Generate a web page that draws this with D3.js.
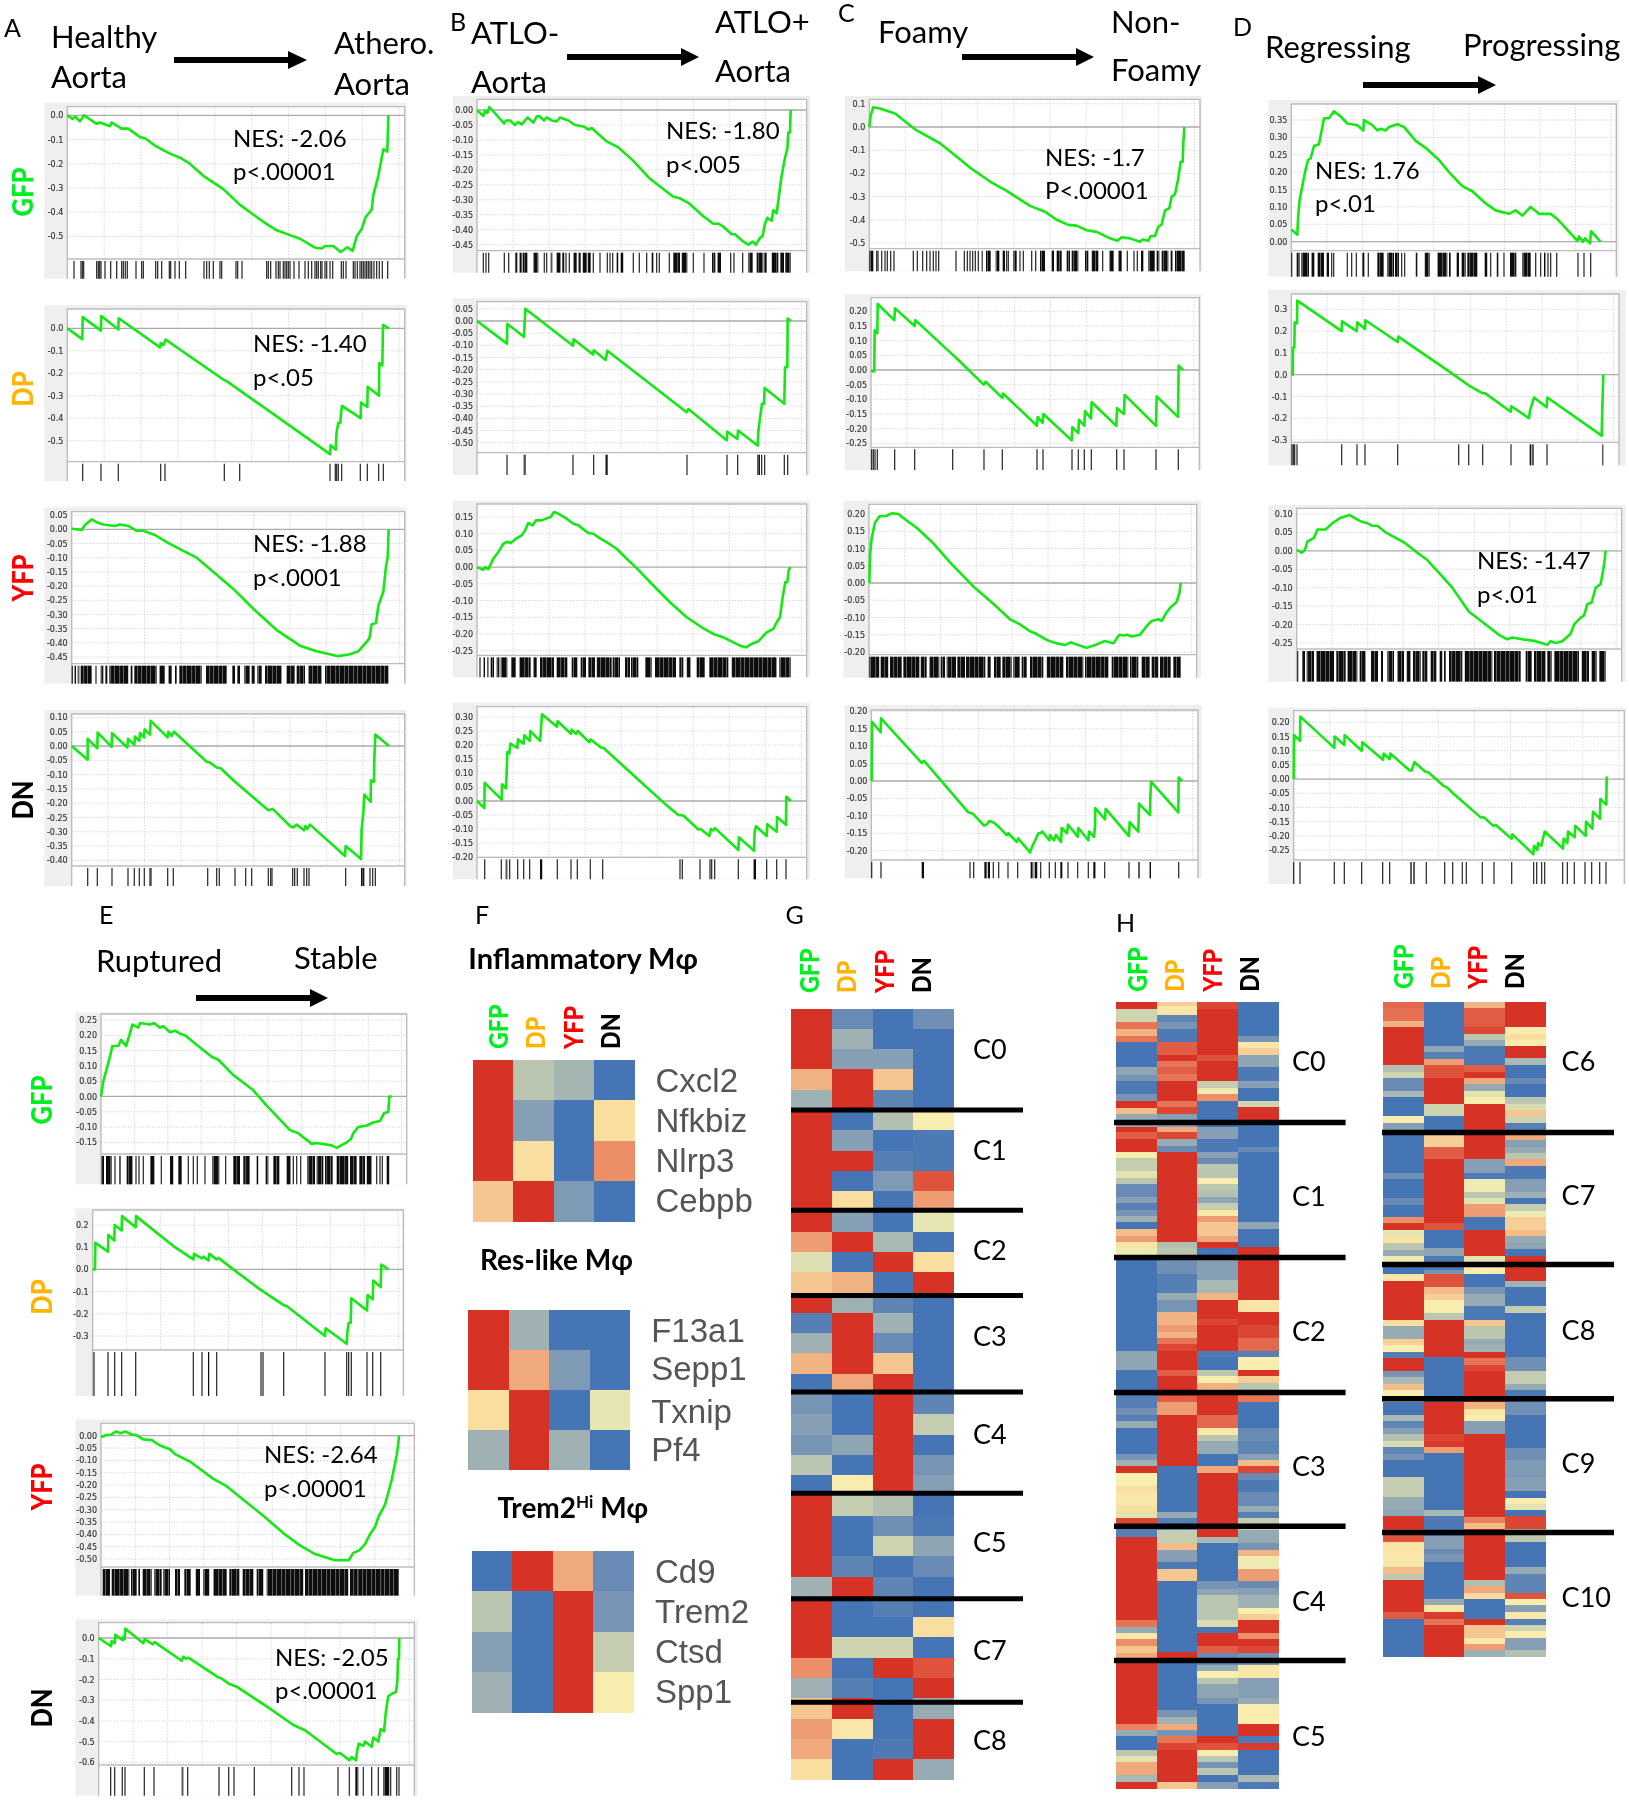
<!DOCTYPE html>
<html><head><meta charset="utf-8">
<script src="https://cdn.jsdelivr.net/npm/d3@7/dist/d3.min.js"></script>
<style>html,body{margin:0;padding:0;background:#fff}svg{display:block}</style></head>
<body><svg id="c" width="1629" height="1800">
<defs>
<filter id="soft" filterUnits="userSpaceOnUse" x="0" y="0" width="1629" height="1800"><feGaussianBlur stdDeviation="0.45"/></filter>
<pattern id="dense" patternUnits="userSpaceOnUse" width="9" height="10">
<rect width="9" height="10" fill="#0c0c0c"/><rect x="2.2" width="0.9" height="10" fill="#6a6a6a"/><rect x="6" width="0.7" height="10" fill="#8a8a8a"/>
</pattern>
</defs></svg>
<script>
// ===== DATA: running enrichment score [rank, ES], hit ranks (a pair is a dense run of hits) =====
const esA_GFP=[[202,0],[218,-.015],[225,-.005],[240,-.025],[252,0],[265,-.012],[290,-.035],[300,-.03],[330,-.045],[335,-.03],[365,-.055],[385,-.055],[420,-.09],[435,-.095],[465,-.125],[505,-.155],[540,-.175],[565,-.195],[610,-.25],[670,-.305],[720,-.37],[790,-.44],[830,-.475],[870,-.495],[900,-.51],[945,-.547],[965,-.55],[975,-.54],[1000,-.54],[1022,-.565],[1042,-.545],[1058,-.56],[1070,-.5],[1085,-.47],[1097,-.42],[1115,-.39],[1120,-.33],[1135,-.25],[1150,-.14],[1162,-.15],[1165,0]];
const hitsA_GFP=[222,243,247,251,290,295,299,303,315,332,350,365,370,376,382,408,425,430,467,473,485,508,512,525,538,557,612,620,628,640,660,665,708,713,726,800,805,812,828,835,840,850,855,860,865,870,882,897,915,925,935,945,950,955,962,966,975,980,990,998,1024,1030,1038,1060,1065,1072,1080,1085,1090,1095,1100,1105,1110,1115,1122,1130,1138,1147,1163];
const ticksA_GFP=[0,-.1,-.2,-.3,-.4,-.5];
const esA_DP=[[202,0],[247,-.048],[248,.05],[303,-.01],[304,.055],[355,-.005],[356,.045],[480,-.085],[482,-.065],[490,-.075],[497,-.05],[672,-.23],[680,-.235],[990,-.56],[992,-.52],[1007,-.54],[1010,-.46],[1015,-.42],[1021,-.42],[1023,-.38],[1026,-.345],[1082,-.4],[1083,-.33],[1102,-.35],[1103,-.26],[1137,-.3],[1138,-.155],[1147,-.165],[1149,.015],[1167,0]];
const hitsA_DP=[248,303,355,482,495,673,719,990,1006,1010,1015,1025,1081,1102,1136,1150];
const ticksA_DP=[0,-.1,-.2,-.3,-.4,-.5];
const esA_YFP=[[215,.002],[245,-.002],[255,.015],[275,.035],[290,.025],[310,.017],[345,.012],[360,.017],[385,.012],[410,-.005],[430,-.005],[465,-.02],[500,-.045],[540,-.07],[590,-.1],[650,-.16],[700,-.21],[760,-.28],[830,-.355],[900,-.41],[950,-.43],[1015,-.447],[1050,-.44],[1075,-.43],[1090,-.41],[1108,-.385],[1115,-.335],[1128,-.33],[1135,-.27],[1150,-.22],[1158,-.13],[1163,-.1],[1166,0]];
const hitsA_YFP=[217,[223,228],[233,238],[242,275],288,[302,310],[315,322],[328,385],[392,398],[403,470],[478,495],[505,515],[525,530],[538,605],[618,680],[697,705],[712,720],[733,750],[755,765],[772,785],[795,845],[860,885],[890,915],[925,965],[975,1165]];
const ticksA_YFP=[.05,0,-.05,-.1,-.15,-.2,-.25,-.3,-.35,-.4,-.45];
const esA_DN=[[215,0],[263,-.048],[263,.025],[292,-.008],[293,.047],[335,-.003],[336,.045],[382,-.005],[384,.025],[403,.005],[405,.033],[418,.018],[420,.045],[432,.03],[434,.058],[450,.04],[452,.088],[503,.03],[505,.05],[515,.035],[522,.05],[620,-.055],[630,-.058],[650,-.075],[662,-.078],[700,-.12],[760,-.18],[805,-.225],[818,-.22],[870,-.28],[880,-.285],[890,-.275],[912,-.295],[916,-.28],[922,-.29],[930,-.275],[1035,-.385],[1037,-.35],[1083,-.395],[1085,-.29],[1090,-.235],[1093,-.17],[1112,-.195],[1113,-.12],[1122,-.125],[1123,-.045],[1126,.04],[1167,0]];
const hitsA_DN=[263,292,336,384,403,418,433,450,453,503,520,623,650,658,705,737,755,805,812,816,878,884,892,912,920,927,1037,[1083,1093],1110,1118,1126];
const ticksA_DN=[.1,.05,0,-.05,-.1,-.15,-.2,-.25,-.3,-.35,-.4];

const esB_GFP=[[141,0],[160,-.02],[165,-.002],[172,-.01],[178,.01],[222,-.045],[228,-.035],[240,-.035],[255,-.05],[265,-.04],[275,-.048],[293,-.025],[310,-.042],[320,-.022],[328,-.02],[342,-.035],[350,-.025],[365,-.035],[380,-.038],[390,-.025],[415,-.035],[435,-.05],[460,-.055],[475,-.065],[485,-.06],[530,-.105],[565,-.125],[610,-.17],[660,-.23],[730,-.29],[750,-.295],[775,-.31],[820,-.355],[850,-.38],[865,-.38],[880,-.39],[905,-.415],[915,-.415],[940,-.44],[955,-.45],[968,-.44],[978,-.45],[988,-.43],[998,-.42],[1005,-.38],[1012,-.36],[1025,-.37],[1030,-.335],[1040,-.345],[1047,-.285],[1055,-.22],[1065,-.16],[1072,-.13],[1075,-.075],[1080,-.075],[1082,0]];
const hitsB_GFP=[160,168,176,223,236,[255,262],[268,275],[278,292],[310,325],343,350,[362,367],[380,392],[397,403],408,418,[430,440],[445,452],[458,470],[473,482],490,510,532,540,548,[560,565],[572,580],610,628,650,[665,670],680,688,718,[730,750],[755,772],790,822,[846,856],[862,873],902,912,938,[955,968],[980,1000],[1003,1010],[1025,1045],[1050,1062],[1065,1082]];
const ticksB_GFP=[0,-.05,-.1,-.15,-.2,-.25,-.3,-.35,-.4,-.45];
const esB_DP=[[141,0],[231,-.093],[232,-.012],[282,-.065],[284,-.005],[286,.05],[429,-.102],[431,-.075],[489,-.138],[491,-.12],[527,-.16],[532,-.122],[770,-.375],[775,-.362],[890,-.49],[892,-.455],[922,-.485],[924,-.45],[983,-.512],[985,-.455],[990,-.4],[996,-.34],[1002,-.34],[1004,-.275],[1063,-.34],[1065,-.19],[1072,-.19],[1073,.01],[1083,0]];
const hitsB_DP=[231,[281,287],429,491,[526,533],771,891,923,[982,990],995,1004,1063,1073];
const ticksB_DP=[.05,0,-.05,-.1,-.15,-.2,-.25,-.3,-.35,-.4,-.45,-.5];
const esB_YFP=[[141,0],[160,-.008],[165,0],[175,-.006],[190,.025],[205,.045],[220,.07],[232,.076],[242,.072],[258,.085],[275,.095],[285,.11],[295,.132],[308,.125],[318,.14],[335,.14],[350,.146],[362,.15],[372,.165],[385,.16],[410,.145],[430,.13],[445,.125],[475,.102],[490,.1],[510,.086],[530,.075],[560,.055],[590,.025],[620,-.003],[670,-.055],[720,-.105],[770,-.15],[815,-.18],[850,-.2],[880,-.21],[930,-.235],[948,-.24],[965,-.23],[985,-.222],[1010,-.195],[1030,-.185],[1040,-.165],[1050,-.15],[1058,-.09],[1066,-.045],[1072,-.045],[1076,-.01],[1081,0]];
const hitsB_YFP=[150,[160,165],[172,176],[182,192],[200,208],[212,232],[244,258],[268,302],[310,320],[330,372],[380,412],[425,442],[452,468],[475,495],[500,545],[548,570],[585,600],[603,625],[645,665],[675,738],[748,760],[770,782],[800,825],[838,895],[905,1040],[1048,1082]];
const ticksB_YFP=[.15,.1,.05,0,-.05,-.1,-.15,-.2,-.25];
const esB_DN=[[141,0],[163,-.025],[164,.065],[215,.005],[216,.06],[228,.045],[230,.1],[232,.175],[238,.17],[241,.205],[262,.19],[264,.22],[281,.205],[283,.235],[299,.215],[301,.25],[330,.215],[332,.24],[336,.31],[381,.265],[383,.285],[423,.24],[425,.255],[438,.24],[443,.25],[478,.21],[482,.22],[514,.19],[520,.19],[580,.125],[640,.06],[700,-.005],[745,-.05],[760,-.052],[805,-.102],[812,-.1],[838,-.125],[843,-.1],[850,-.105],[855,-.097],[925,-.175],[927,-.13],[972,-.178],[974,-.11],[978,-.09],[1010,-.125],[1012,-.083],[1040,-.11],[1041,-.057],[1068,-.085],[1069,.015],[1083,0]];
const hitsB_DN=[164,214,[227,232],239,263,281,299,[330,337],382,423,442,481,518,750,757,810,840,845,854,925,[970,978],1010,1040,1068];
const ticksB_DN=[.3,.25,.2,.15,.1,.05,0,-.05,-.1,-.15,-.2];

const esC_GFP=[[118,0],[122,.05],[130,.085],[150,.08],[170,.07],[195,.058],[255,-.01],[330,-.07],[420,-.175],[480,-.235],[530,-.275],[600,-.34],[645,-.365],[680,-.4],[715,-.422],[740,-.425],[770,-.445],[800,-.452],[840,-.48],[862,-.49],[875,-.475],[900,-.48],[930,-.495],[938,-.485],[955,-.49],[962,-.47],[975,-.47],[985,-.43],[995,-.42],[1005,-.36],[1018,-.35],[1025,-.3],[1035,-.29],[1045,-.22],[1052,-.15],[1058,-.15],[1060,-.07],[1063,0]];
const hitsC_GFP=[[118,130],140,144,155,165,172,182,192,250,262,278,290,300,310,318,326,378,403,412,420,428,436,445,[455,458],[468,482],[497,508],[518,525],530,535,[550,560],570,580,605,617,[630,645],[665,672],[680,695],[710,720],[725,745],[765,775],[785,805],818,[838,852],[865,875],892,912,922,[933,940],[955,975],[980,988],[995,1015],[1022,1028],[1035,1064]];
const ticksC_GFP=[.1,0,-.1,-.2,-.3,-.4,-.5];
const esC_DP=[[123,-.003],[133,-.005],[134,.135],[142,.125],[143,.225],[193,.17],[195,.21],[254,.15],[256,.17],[370,.05],[375,.045],[461,-.05],[467,-.04],[517,-.095],[519,-.08],[621,-.19],[623,-.16],[638,-.18],[640,-.15],[725,-.24],[727,-.195],[745,-.215],[747,-.17],[763,-.19],[765,-.14],[783,-.165],[785,-.11],[859,-.19],[861,-.13],[882,-.15],[884,-.085],[978,-.19],[980,-.09],[1044,-.16],[1046,.015],[1060,0]];
const hitsC_DP=[125,130,135,142,194,254,368,462,517,621,639,726,745,763,784,860,882,978,1045];
const ticksC_DP=[.2,.15,.1,.05,0,-.05,-.1,-.15,-.2,-.25];
const esC_YFP=[[118,0],[120,.08],[125,.13],[135,.175],[148,.193],[170,.195],[185,.202],[205,.2],[225,.185],[260,.16],[310,.115],[360,.06],[430,-.01],[490,-.06],[540,-.105],[570,-.12],[600,-.14],[620,-.148],[650,-.165],[680,-.175],[705,-.18],[722,-.172],[745,-.18],[770,-.188],[800,-.178],[825,-.168],[850,-.175],[868,-.15],[880,-.152],[892,-.15],[905,-.155],[930,-.15],[950,-.125],[965,-.11],[985,-.105],[995,-.11],[1010,-.085],[1022,-.07],[1040,-.055],[1048,-.03],[1052,0]];
const hitsC_YFP=[[118,148],[152,175],[180,215],[220,268],[272,290],[298,328],[332,345],[350,378],[382,405],[408,466],[472,482],[492,512],[517,545],[550,570],[575,590],[600,640],[650,700],[708,760],[765,835],[845,895],[900,925],[935,960],[965,985],[990,1022],[1030,1052]];
const ticksC_YFP=[.2,.15,.1,.05,0,-.05,-.1,-.15,-.2];
const esC_DN=[[125,0],[126,.17],[152,.14],[153,.18],[275,.052],[282,.058],[415,-.09],[430,-.095],[462,-.128],[470,-.125],[478,-.115],[492,-.12],[510,-.135],[530,-.155],[535,-.15],[560,-.175],[565,-.165],[600,-.205],[608,-.185],[618,-.165],[625,-.15],[632,-.15],[637,-.145],[658,-.17],[660,-.155],[672,-.17],[678,-.155],[693,-.175],[695,-.135],[711,-.15],[714,-.125],[743,-.16],[745,-.135],[775,-.17],[777,-.145],[792,-.16],[795,-.13],[796,-.078],[825,-.11],[827,-.08],[897,-.158],[899,-.118],[925,-.145],[927,-.065],[960,-.098],[961,-.05],[963,-.002],[1045,-.09],[1046,.01],[1057,0]];
const hitsC_DN=[125,153,[275,282],420,431,[463,470],[473,480],490,506,534,563,[602,610],[614,622],632,658,676,[691,697],714,743,775,[790,797],824,897,[925,929],[958,963],1046];
const ticksC_DN=[.2,.15,.1,.05,0,-.05,-.1,-.15,-.2];

const esD_GFP=[[187,.035],[205,.02],[207,.065],[212,.12],[220,.16],[228,.2],[237,.235],[245,.24],[255,.275],[270,.28],[285,.355],[300,.355],[315,.375],[335,.36],[355,.34],[385,.335],[403,.32],[405,.35],[430,.335],[445,.32],[455,.325],[470,.32],[480,.33],[505,.338],[525,.33],[560,.29],[590,.27],[630,.235],[660,.2],[700,.16],[730,.145],[770,.11],[800,.09],[820,.085],[840,.08],[860,.09],[880,.075],[905,.1],[930,.08],[965,.08],[985,.065],[1000,.05],[1045,.002],[1050,.015],[1062,0],[1068,.01],[1083,-.005],[1086,.03],[1115,0]];
const hitsD_GFP=[188,[203,212],[217,240],[247,256],[266,285],[293,300],308,314,355,368,382,[400,406],418,[445,465],[475,495],[498,510],518,527,[560,565],[587,602],[625,655],[660,665],[683,690],[698,710],[715,745],[767,775],785,[803,808],825,[843,862],[880,905],920,935,[945,950],957,965,983,1047,1065,1085];
const ticksD_GFP=[.35,.3,.25,.2,.15,.1,.05,0];
const esD_DP=[[187,-.002],[191,0],[192,.125],[196,.125],[197,.24],[204,.235],[205,.34],[338,.2],[339,.245],[383,.2],[385,.24],[408,.21],[409,.25],[506,.15],[508,.175],[660,.015],[720,-.05],[760,-.085],[768,-.085],[845,-.17],[847,-.145],[900,-.2],[903,-.165],[908,-.14],[915,-.105],[953,-.15],[955,-.105],[1118,-.28],[1120,-.15],[1123,0]];
const hitsD_DP=[189,193,197,204,338,384,408,506,689,719,761,846,[902,906],[908,914],954,[1120,1122]];
const ticksD_DP=[.3,.2,.1,0,-.1,-.2,-.3];
const esD_YFP=[[203,.003],[218,-.005],[228,.003],[235,.025],[255,.035],[265,.058],[290,.058],[310,.075],[335,.09],[362,.097],[395,.08],[415,.075],[430,.068],[445,.068],[470,.05],[500,.035],[530,.02],[565,-.005],[595,-.025],[630,-.06],[670,-.1],[720,-.165],[770,-.2],[810,-.228],[835,-.24],[850,-.235],[880,-.24],[920,-.245],[955,-.255],[965,-.245],[980,-.25],[1000,-.245],[1025,-.225],[1035,-.2],[1050,-.185],[1065,-.175],[1075,-.145],[1088,-.14],[1100,-.1],[1115,-.09],[1125,-.04],[1130,0]];
const hitsD_YFP=[206,[219,228],[233,255],[262,315],[322,350],[355,385],[392,410],[426,447],[456,462],[475,495],[505,525],[533,545],[552,575],[580,595],[605,622],[632,640],[645,650],[660,700],[707,790],[795,875],[890,908],[915,950],[955,968],[975,1050],[1058,1080],[1088,1103],[1110,1130]];
const ticksD_YFP=[.1,.05,0,-.05,-.1,-.15,-.2,-.25];
const esD_DN=[[194,0],[195,.155],[213,.135],[214,.22],[316,.11],[317,.15],[346,.12],[347,.155],[398,.1],[400,.13],[462,.068],[464,.09],[482,.07],[484,.09],[542,.03],[548,.03],[556,.06],[590,.025],[597,.025],[645,-.025],[655,-.03],[672,-.05],[755,-.135],[765,-.135],[793,-.165],[800,-.162],[848,-.21],[850,-.195],[913,-.265],[915,-.235],[925,-.25],[927,-.225],[937,-.235],[947,-.185],[1002,-.245],[1004,-.21],[1015,-.225],[1017,-.185],[1037,-.205],[1039,-.165],[1070,-.2],[1071,-.15],[1090,-.175],[1092,-.115],[1113,-.14],[1114,-.07],[1132,-.09],[1133,.005],[1137,.003]];
const hitsD_DN=[194,213,316,346,398,461,482,[543,548],[553,557],592,647,671,700,712,760,795,848,914,923,938,947,1001,1015,1036,1068,1088,1112,1131];
const ticksD_DN=[.2,.15,.1,.05,0,-.05,-.1,-.15,-.2,-.25];

const esE_GFP=[[303,0],[310,.05],[320,.09],[330,.13],[337,.165],[355,.165],[363,.185],[378,.165],[388,.2],[397,.235],[415,.225],[420,.24],[450,.235],[462,.24],[480,.225],[490,.23],[510,.21],[525,.215],[540,.205],[555,.2],[600,.16],[635,.13],[655,.12],[700,.07],[760,.02],[800,-.03],[870,-.11],[895,-.12],[935,-.155],[950,-.152],[995,-.16],[1010,-.168],[1040,-.15],[1052,-.14],[1060,-.12],[1075,-.1],[1100,-.095],[1120,-.085],[1140,-.08],[1152,-.055],[1165,-.05],[1168,0],[1175,0]];
const hitsE_GFP=[[304,312],[318,335],345,[357,362],[380,398],408,417,430,[450,463],484,[510,520],[535,545],565,580,592,615,[637,658],677,[700,720],[730,750],[770,775],[797,805],[820,838],[860,872],880,890,902,[922,945],[950,970],[975,998],[1010,1045],[1050,1070],[1078,1095],[1100,1115],1130,1140,1147,[1160,1168]];
const ticksE_GFP=[.25,.2,.15,.1,.05,0,-.05,-.1,-.15];
const esE_DP=[[278,0],[285,0],[286,.12],[324,.08],[325,.155],[343,.13],[344,.2],[365,.175],[366,.24],[407,.19],[408,.24],[520,.105],[580,.045],[582,.07],[605,.05],[610,.058],[625,.04],[628,.07],[650,.045],[655,.052],[700,0],[780,-.09],[850,-.16],[860,-.165],[975,-.3],[977,-.265],[1040,-.335],[1042,-.285],[1046,-.24],[1052,-.24],[1054,-.13],[1101,-.185],[1103,-.115],[1118,-.135],[1120,-.05],[1142,-.08],[1144,.022],[1165,0]];
const hitsE_DP=[282,324,344,365,407,580,606,[624,628],650,783,789,851,975,1040,1046,1054,1101,1118,1142];
const ticksE_DP=[.2,.1,0,-.1,-.2,-.3];
const esE_YFP=[[303,-.005],[320,.003],[335,.005],[348,.017],[362,.01],[376,.017],[395,.005],[408,.003],[430,-.015],[455,-.018],[480,-.04],[510,-.055],[525,-.075],[570,-.105],[640,-.175],[680,-.205],[730,-.26],[790,-.325],[850,-.395],[900,-.445],[945,-.48],[1005,-.505],[1030,-.505],[1046,-.505],[1060,-.475],[1078,-.465],[1095,-.44],[1110,-.4],[1125,-.37],[1135,-.33],[1155,-.28],[1175,-.18],[1190,-.08],[1195,-.03],[1197,0]];
const hitsE_YFP=[[308,330],[335,388],[393,410],[415,420],[428,455],[463,485],[490,510],[525,540],[553,572],[587,600],[610,628],[640,680],[688,718],[728,760],[770,790],[800,910],[915,1045],[1050,1075],[1075,1197]];
const ticksE_YFP=[0,-.05,-.1,-.15,-.2,-.25,-.3,-.35,-.4,-.45,-.5];
const esE_DN=[[296,0],[333,-.04],[335,-.015],[344,-.025],[346,.015],[368,-.01],[370,.005],[374,-.005],[376,.045],[430,-.025],[434,-.005],[458,-.03],[464,-.02],[545,-.11],[550,-.09],[558,-.1],[565,-.095],[655,-.19],[665,-.195],[685,-.22],[710,-.235],[800,-.33],[880,-.42],[915,-.445],[1010,-.56],[1020,-.555],[1048,-.59],[1055,-.575],[1068,-.59],[1072,-.54],[1076,-.51],[1090,-.52],[1095,-.5],[1115,-.525],[1120,-.48],[1135,-.5],[1142,-.44],[1152,-.45],[1158,-.35],[1165,-.28],[1180,-.265],[1188,-.26],[1192,-.21],[1194,-.1],[1197,-.1],[1198,0]];
const hitsE_DN=[332,344,367,375,433,462,[545,550],563,657,686,702,763,875,897,912,1014,1048,[1066,1075],1090,1115,1135,[1150,1168],1172,1190,1197];
const ticksE_DN=[0,-.1,-.2,-.3,-.4,-.5,-.6];

// ===== DATA: heat maps =====
const cellTypes=["GFP","DP","YFP","DN"];
const genesInflam=["Cxcl2","Nfkbiz","Nlrp3","Cebpb"];
const heatInflam=[[1,-.3,-.42,-1],[1,-.6,-1,.2],[1,.2,-1,.6],[.35,1,-.65,-1]];
const genesRes=["F13a1","Sepp1","Txnip","Pf4"];
const heatRes=[[1,-.45,-1,-1],[1,.5,-.65,-1],[.2,1,-1,-.08],[-.45,1,-.45,-1]];
const genesTrem=["Cd9","Trem2","Ctsd","Spp1"];
const heatTrem=[[-1,1,.5,-.8],[-.3,-1,1,-.7],[-.6,-1,1,-.25],[-.45,-1,1,.03]];
const heatG=[[1,-.8,-1,-.75],[1,-.45,-1,-1],[1,-.6,-.6,-1],[.45,1,.35,-1],[-.45,1,-.85,-1],
[1,-1,-.35,.03],[1,-.6,-1,-.95],[1,1,-.9,-.95],[1,-1,-.65,.85],[1,.2,-1,.55],
[1,-.6,-1,-.08],[.55,1,-.4,-1],[-.12,-1,1,.2],[.35,.45,-1,1],
[1,-.45,-.85,-1],[-.9,1,-.45,-1],[-.45,1,-.8,-1],[.45,1,.35,-1],[-1,.5,1,-1],
[-.7,-1,1,-.85],[-.6,-1,1,-.25],[-.7,-.55,1,-1],[-.3,-1,1,-.7],[-1,.05,1,-.6],
[1,-.25,-.35,-1],[1,-1,-.75,-.95],[1,-1,-.2,-.55],[1,-.85,-1,-.8],[-.45,1,-.85,-1],
[1,-1,-.9,-1],[1,-1,-1,.2],[1,-.2,-.2,-1],[.6,-1,1,.85],[-.45,-.9,-1,1],
[.35,1,-1,-.5],[.55,.1,-1,1],[.5,-1,-.95,1],[.2,-1,1,-.5]];
const clusterNamesG=["C0","C1","C2","C3","C4","C5","C7","C8"];
// H: each column is a list of runs [last gene position of run, value]
const hLeftGFP=[[190,1],[213,-.2],[225,.7],[237,.45],[247,.7],[292,-1],[305,-.55],[316,-.7],[338,-.95],[350,-.7],[362,1],[373,.4],[395,-.5],[405,1],[417,.8],[439,1],[450,.05],[472,-.25],[484,-.1],[495,-.3],[517,-.8],[528,-.6],[540,-.9],[551,-.7],[562,-.45],[573,-1],[585,.4],[596,.55],[607,.15],[625,-.05],[785,-1],[819,-.55],[865,-1],[885,-.9],[897,-.75],[908,-.9],[920,-.5],[965,-1],[976,-.7],[987,-.45],[998,1],[1010,0],[1021,.05],[1032,.2],[1055,.1],[1066,.2],[1077,-.1],[1088,.9],[1110,-.9],[1255,1],[1266,.7],[1277,-.5],[1288,.1],[1300,.6],[1311,.35],[1322,.5],[1435,1],[1446,.65],[1457,-.5],[1480,-1],[1491,-.3],[1502,-.1],[1525,.5],[1536,-.4],[1547,1]];
const hLeftDP=[[185,.3],[200,.1],[212,-.85],[225,-.7],[247,-.95],[270,.8],[281,1],[292,.7],[304,.8],[316,.7],[350,1],[361,.7],[373,.9],[395,-.6],[405,.5],[417,.9],[428,-.5],[439,-.8],[596,1],[607,-.35],[625,-.3],[652,-.75],[685,-.9],[697,-.5],[718,-.7],[740,.45],[752,.55],[764,.45],[774,.7],[785,.9],[819,1],[830,.8],[865,1],[875,.8],[898,.55],[987,1],[1066,-1],[1077,-.5],[1098,-.9],[1120,-.25],[1132,.4],[1153,-.6],[1165,-.95],[1187,.35],[1310,-1],[1322,1],[1412,-1],[1424,-.7],[1435,-.45],[1446,.5],[1457,-.7],[1469,.7],[1480,.9],[1536,1],[1547,.35]];
const hLeftYFP=[[190,.9],[270,1],[281,.85],[316,1],[327,-.25],[338,-.05],[350,.6],[395,-1],[417,-.6],[439,-.95],[450,-.6],[461,-.8],[484,-.3],[495,.05],[506,-.3],[517,-.35],[528,-.55],[540,-.25],[551,.1],[562,.55],[585,.35],[596,.5],[607,1],[625,-1],[662,-.6],[685,-.4],[697,.45],[730,1],[741,.9],[785,1],[797,-.95],[819,-1],[830,-.3],[841,.05],[855,.45],[898,1],[920,.75],[932,.1],[943,-.3],[965,-.5],[987,-1],[998,.5],[1098,1],[1110,1],[1120,-.4],[1187,-1],[1200,-.7],[1210,-.55],[1255,-.3],[1266,-.15],[1277,-1],[1300,1],[1311,.8],[1332,-.8],[1344,-.5],[1355,.05],[1366,-.3],[1390,-.55],[1401,-.7],[1457,-1],[1469,1],[1480,.85],[1491,.05],[1502,-.3],[1513,-.7],[1524,-.3],[1536,-1],[1547,-.6]];
const hLeftDN=[[237,-1],[247,-.7],[258,.1],[270,.3],[292,-.55],[316,-.95],[327,-.6],[350,-1],[361,-.2],[390,1],[430,-1],[440,-.8],[562,-1],[573,-.55],[605,-1],[625,1],[697,1],[718,.15],[741,1],[763,.9],[785,.75],[797,-.9],[819,.05],[830,1],[841,.3],[860,-.3],[875,.7],[920,-1],[943,-.8],[965,-.85],[976,-.6],[987,.4],[998,.9],[1010,-.8],[1032,-.95],[1055,-.8],[1066,-.5],[1077,-.9],[1098,-.25],[1120,-.5],[1132,-.7],[1143,.45],[1165,-.05],[1187,.55],[1198,-.8],[1210,-.6],[1233,-.45],[1244,.05],[1255,.3],[1277,1],[1288,.6],[1300,1],[1311,.9],[1332,-.7],[1355,.1],[1390,-.6],[1401,-.5],[1435,.05],[1457,1],[1469,-.95],[1480,.95],[1525,-1],[1536,-.4],[1547,-.95]];
const hRightGFP=[[188,.75],[210,.72],[221,.45],[288,1],[299,-.35],[310,-.2],[332,-.8],[344,-.4],[377,-1],[389,.05],[410,-.6],[475,-1],[486,-.75],[520,-1],[531,-.8],[552,-1],[563,.6],[575,1],[586,-.1],[598,.15],[609,-.3],[620,-.5],[640,-.05],[652,-1],[664,.1],[731,1],[743,.2],[765,-.5],[776,.3],[787,.05],[798,-.9],[820,1],[831,-.7],[843,-.4],[854,.4],[875,.05],[897,-1],[908,-.4],[920,-.85],[931,-.6],[942,-.35],[953,-.15],[965,-.85],[976,-.7],[1006,-1],[1040,-.25],[1063,-.5],[1074,-.55],[1096,1],[1118,.85],[1140,.15],[1162,.1],[1174,.4],[1185,-.3],[1241,1],[1252,.8],[1318,-1]];
const hRightDP=[[255,-1],[265,-.55],[277,-.9],[288,.55],[310,.85],[355,1],[377,-.2],[400,-1],[410,-.7],[430,.3],[452,.8],[563,1],[575,.85],[607,-1],[620,-.55],[645,-.95],[652,-.7],[675,.85],[687,.4],[697,.3],[720,.05],[731,-.3],[797,1],[875,-1],[930,1],[942,.9],[953,.95],[963,.55],[1063,-1],[1074,-.4],[1108,-.95],[1130,-.6],[1140,-.8],[1153,-.7],[1218,-1],[1229,-.5],[1241,.1],[1252,.95],[1263,.7],[1318,1]];
const hRightYFP=[[188,.45],[222,.8],[233,.9],[244,-.3],[254,-.5],[287,-.95],[299,.8],[310,1],[321,.5],[333,-.5],[344,-.1],[355,.05],[400,1],[410,-.3],[452,1],[475,-.6],[486,-.95],[508,-.05],[519,-.3],[530,-.1],[552,.55],[575,-1],[620,1],[640,-.1],[652,.05],[675,-1],[687,-.7],[708,-.5],[731,-.95],[743,.35],[765,-.3],[776,-.5],[787,-.45],[798,1],[810,.7],[821,.9],[875,1],[887,.45],[897,.15],[908,.05],[930,-.6],[1075,1],[1085,.65],[1096,.4],[1185,1],[1196,-.35],[1207,.5],[1218,.25],[1252,-1],[1263,1],[1285,.35],[1296,.1],[1307,.55],[1318,-.45]];
const hRightDN=[[221,1],[233,.05],[244,.2],[254,.05],[276,1],[287,-.4],[310,-1],[321,-.8],[344,-1],[355,-.3],[366,-.15],[377,.35],[389,-.2],[410,-.9],[418,.5],[430,-.6],[441,-.5],[452,-.3],[463,.5],[486,-.95],[508,-.6],[519,-.45],[530,-1],[541,-.25],[552,-.05],[575,.3],[586,.4],[597,-.5],[608,-.55],[620,-1],[663,1],[675,-.45],[708,-1],[720,-.25],[797,-1],[820,-.75],[843,-.25],[854,-.5],[875,-.95],[897,-.75],[955,-1],[975,-.75],[1006,-.65],[1030,-.6],[1041,-1],[1052,.05],[1063,-.1],[1074,-1],[1096,.9],[1118,-.3],[1162,-1],[1174,-.5],[1207,-.85],[1218,.85],[1229,.05],[1241,-.6],[1252,.1],[1263,-.9],[1274,-.2],[1285,.05],[1307,-.6],[1318,-.35]];
const hCutsLeft=[388,623,858,1091,1325];
const hCutsRight=[405,635,869,1102];
const gCuts=[5.0,9.95,14.15,18.9,23.9,29.1,34.2];
const clusterNamesHL=["C0","C1","C2","C3","C4","C5"];
const clusterNamesHR=["C6","C7","C8","C9","C10"];

// ===== LAYOUT AND STYLE (separate from the data) =====
const svg=d3.select("#c").append("g").attr("filter","url(#soft)");
svg.append("rect").attr("width",1629).attr("height",1800).attr("fill","#fff");
const G_COLOR="#12e812", FONT="Lato, 'Open Sans', sans-serif";
const LABEL_COLORS={GFP:"#00ee22",DP:"#ffb400",YFP:"#ff0000",DN:"#000"};
const heatColor=d3.scaleLinear()
  .domain([-1,-.75,-.5,-.25,0,.25,.5,.75,1])
  .range(["#4575b4","#6f8fb5","#96aab3","#c4cdb0","#f8f1b2","#f9d99c","#f0a97c","#e4684c","#d73027"]);

// [data, hits, ticks, format, originX, originY, outer[x0,x1,y0,y1], frame[x0,x1,y0,y1], refValue1, refY1, refValue2, refY2]
const plots=[
[esA_GFP,hitsA_GFP,ticksA_GFP,".1f",0,0,[133,1220,308,836],[202,1214,320,777],0,346,-.5,709],
[esA_DP,hitsA_DP,ticksA_DP,".1f",0,0,[133,1220,915,1443],[202,1214,927,1385],0,985,-.5,1322],
[esA_YFP,hitsA_YFP,ticksA_YFP,".2f",0,490,[133,1220,52,581],[215,1214,65,521],0,118,-.45,501],
[esA_DN,hitsA_DN,ticksA_DN,".2f",0,490,[133,1220,660,1188],[215,1214,672,1128],0,768,-.4,1111],
[esB_GFP,hitsB_GFP,ticksB_GFP,".2f",430,0,[68,1140,288,818],[141,1130,298,752],0,330,-.45,734],
[esB_DP,hitsB_DP,ticksB_DP,".2f",430,0,[68,1140,895,1425],[141,1130,905,1358],0,963,-.5,1328],
[esB_YFP,hitsB_YFP,ticksB_YFP,".2f",430,480,[68,1140,62,592],[141,1130,72,526],.15,111,-.25,512],
[esB_DN,hitsB_DN,ticksB_DN,".2f",430,480,[68,1140,668,1198],[141,1130,680,1132],0,963,.3,711],
[esC_GFP,hitsC_GFP,ticksC_GFP,".1f",830,0,[44,1115,288,814],[118,1110,298,746],0,381,-.5,729],
[esC_DP,hitsC_DP,ticksC_DP,".2f",830,0,[44,1115,883,1410],[123,1108,893,1342],0,1110,.2,934],
[esC_YFP,hitsC_YFP,ticksC_YFP,".2f",830,480,[40,1113,62,593],[117,1100,73,524],.2,102,-.2,516],
[esC_DN,hitsC_DN,ticksC_DN,".2f",830,480,[44,1115,675,1195],[124,1104,690,1140],.2,694,-.2,1112],
[esD_GFP,hitsD_GFP,ticksD_GFP,".2f",1229,0,[118,1170,300,830],[187,1162,312,752],0,725,.35,360],
[esD_DP,hitsD_DP,ticksD_DP,".1f",1229,0,[118,1190,870,1396],[187,1170,882,1327],.3,928,-.3,1320],
[esD_YFP,hitsD_YFP,ticksD_YFP,".2f",1229,480,[118,1190,75,605],[203,1178,85,507],.1,102,-.25,489],
[esD_DN,hitsD_DN,ticksD_DN,".2f",1229,480,[118,1190,683,1212],[194,1186,692,1140],.2,727,-.25,1110],
[esE_GFP,hitsE_GFP,ticksE_GFP,".2f",0,890,[226,1222,367,883],[303,1220,372,792],.25,390,-.15,757],
[esE_DP,hitsE_DP,ticksE_DP,".1f",0,890,[226,1213,955,1518],[278,1210,960,1380],.2,1005,-.3,1338],
[esE_YFP,hitsE_YFP,ticksE_YFP,".2f",0,1390,[226,1245,88,617],[303,1243,100,531],0,137,-.5,507],
[esE_DN,hitsE_DN,ticksE_DN,".1f",0,1390,[226,1253,688,1217],[296,1243,698,1125],0,744,-.6,1117]
];

function drawPlot(p){
  const [es,hits,ticks,fmt,ox,oy,o,f,v1,y1,v2,y2]=p;
  const X=z=>ox+z/3, Y=z=>oy+z/3;
  const g=svg.append("g");
  const x=d3.scaleLinear().domain([f[0],f[1]]).range([X(f[0]),X(f[1])]);
  const y=d3.scaleLinear().domain([v1,v2]).range([Y(y1),Y(y2)]);
  const top=Y(f[2]),bot=Y(f[3]),left=X(f[0]),right=X(f[1]),ob=Y(o[3]);
  g.append("rect").attr("x",X(o[0])).attr("y",Y(o[2])).attr("width",X(o[1])-X(o[0])).attr("height",ob-Y(o[2])).attr("fill","#efefef");
  g.append("rect").attr("x",left).attr("y",top).attr("width",right-left).attr("height",ob-top).attr("fill","#fff");
  const step=(f[1]-f[0])/9.15;
  g.selectAll(null).data(d3.range(f[0]+step,f[1]-2,step)).join("line")
    .attr("x1",d=>x(d)).attr("x2",d=>x(d)).attr("y1",top).attr("y2",bot)
    .attr("stroke","#d8d8d8").attr("stroke-dasharray","1.5 1.5");
  g.selectAll(null).data(ticks.filter(t=>t!==0)).join("line")
    .attr("x1",left).attr("x2",right).attr("y1",d=>y(d)).attr("y2",d=>y(d))
    .attr("stroke","#d8d8d8").attr("stroke-dasharray","1.5 1.5");
  g.append("path").attr("d",`M${left},${ob}V${top}H${right}V${ob}`).attr("fill","none").attr("stroke","#bcbcbc").attr("stroke-width",1.4);
  g.append("line").attr("x1",left).attr("x2",right).attr("y1",bot).attr("y2",bot).attr("stroke","#bcbcbc").attr("stroke-width",1.4);
  g.append("line").attr("x1",left).attr("x2",right).attr("y1",y(0)).attr("y2",y(0)).attr("stroke","#aaa").attr("stroke-width",1.3);
  const ax=g.append("g").attr("transform",`translate(${left},0)`).call(d3.axisLeft(y).tickValues(ticks).tickSize(0).tickPadding(4).tickFormat(t=>d3.format(fmt)(t).replace("−","-")));
  ax.select(".domain").remove();
  ax.selectAll("text").attr("font-family","'DejaVu Sans'").attr("font-size",8).attr("fill","#333").attr("stroke","#333").attr("stroke-width",.15);
  const rt=bot+2;
  g.selectAll(null).data(hits.filter(h=>typeof h==="number")).join("line")
    .attr("x1",d=>x(d)).attr("x2",d=>x(d)).attr("y1",rt).attr("y2",ob).attr("stroke","#333").attr("stroke-width",1.3);
  g.selectAll(null).data(hits.filter(h=>typeof h!=="number")).join("rect")
    .attr("x",d=>x(d[0])).attr("width",d=>Math.max(1,x(d[1])-x(d[0]))).attr("y",rt).attr("height",ob-rt).attr("fill","url(#dense)");
  g.append("path").datum(es).attr("fill","none").attr("stroke",G_COLOR).attr("stroke-width",2.6).attr("stroke-linejoin","round")
    .attr("d",d3.line().x(d=>x(d[0])).y(d=>y(d[1])));
}
plots.forEach(drawPlot);

function drawMatrix(m,x0,x1,y0,y1){
  const x=d3.scaleBand().domain(d3.range(4)).range([x0,x1]);
  const y=d3.scaleBand().domain(d3.range(m.length)).range([y0,y1]);
  const g=svg.append("g").attr("shape-rendering","crispEdges");
  m.forEach((row,r)=>g.selectAll(null).data(row).join("rect")
    .attr("x",(d,c)=>x(c)).attr("y",y(r)).attr("width",x.bandwidth()).attr("height",y.bandwidth()+.5).attr("fill",d=>heatColor(d)));
  return d3.scaleLinear().domain([0,m.length]).range([y0,y1]);
}
drawMatrix(heatInflam,472.9,635,1060,1221);
drawMatrix(heatRes,468.3,630.2,1309.5,1469.6);
drawMatrix(heatTrem,471.8,634,1551,1712);
const yMatG=drawMatrix(heatG,791.3,954,1008.5,1779.4);

function drawRuns(cols,x0,x1,y0,y1,pos0,pos1){
  const x=d3.scaleBand().domain(d3.range(4)).range([x0,x1]);
  const y=d3.scaleLinear().domain([pos0,pos1]).range([y0,y1]);
  const g=svg.append("g").attr("shape-rendering","crispEdges");
  cols.forEach((runs,c)=>{
    g.selectAll(null).data(runs).join("rect")
      .attr("x",x(c)).attr("width",x.bandwidth())
      .attr("y",(d,i)=>y(i?runs[i-1][0]:pos0))
      .attr("height",(d,i)=>y(d[0])-y(i?runs[i-1][0]:pos0)+.5)
      .attr("fill",d=>heatColor(d[1]));
  });
  return y;
}
const yHL=drawRuns([hLeftGFP,hLeftDP,hLeftYFP,hLeftDN],1115.9,1278.8,1002,1788,178,1547);
const yHR=drawRuns([hRightGFP,hRightDP,hRightYFP,hRightDN],1382.7,1546,1001.6,1656.5,177,1318);

function sep(ys,x0,x1,w){
  svg.append("g").selectAll(null).data(ys).join("line")
   .attr("x1",x0).attr("x2",x1).attr("y1",d=>d).attr("y2",d=>d).attr("stroke","#000").attr("stroke-width",w);
}
sep(gCuts.map(yMatG),791,1023,5);
sep(hCutsLeft.map(yHL),1114,1345.6,5.5);
sep(hCutsRight.map(yHR),1382,1614,5.5);

function txt(s,x,y,size,opt={}){
  return svg.append("text").attr("x",x).attr("y",y).attr("font-size",size)
   .attr("font-family",opt.family||FONT).attr("font-weight",opt.weight||400).attr("fill",opt.fill||"#000").text(s);
}
function vlab(s,x,yBase,size,sx,anchor){
  svg.append("text").attr("transform",`translate(${x},${yBase}) rotate(-90) scale(${sx},1)`)
    .attr("text-anchor",anchor).attr("font-family",FONT).attr("font-weight",900).attr("font-size",size)
    .attr("fill",LABEL_COLORS[s]).text(s);
}
[["GFP",33,192],["DP",33,389],["YFP",33,578],["DN",33,800],["GFP",52,1100],["DP",52,1297],["YFP",52,1487],["DN",52,1708]]
 .forEach(d=>vlab(d[0],d[1],d[2],29,.88,"middle"));
[[[508,545,582.7,620],1049],[[818.9,856,893.5,930.6],993],[[1147,1184,1221.5,1258.6],991.8],[[1412.8,1449.9,1487,1524.4],989]]
 .forEach(([xs,b])=>xs.forEach((x,i)=>vlab(cellTypes[i],x,b,27,.86,"start")));

[["A",4,37],["B",450,31],["C",838,22],["D",1233,36],["E",99,924],["F",475,924],["G",785.6,924],["H",1116,931.6]]
 .forEach(d=>txt(d[0],d[1],d[2],25));
[["Healthy",51,48],["Aorta",51,88],["Athero.",334,54],["Aorta",334,95],["ATLO-",471,44],["Aorta",471,93],["ATLO+",715,33],["Aorta",715,82],
 ["Foamy",878,43],["Non-",1111,33],["Foamy",1111,81],["Regressing",1265,58],["Progressing",1463,56],["Ruptured",96,972],["Stable",294,969]]
 .forEach(d=>txt(d[0],d[1],d[2],31));
[[174,288,307,60],[567,681,699,57],[962,1076,1094,57],[1363,1478,1496,85],[196,310,328,998]].forEach(([a,b,c,y])=>{
  svg.append("path").attr("d",`M${a},${y-3}H${b}V${y-9}L${c},${y}L${b},${y+9}V${y+3}H${a}Z`).attr("fill","#000");
});
[["NES: -2.06","p<.00001",233,147,180],["NES: -1.40","p<.05",253,352,386],["NES: -1.88","p<.0001",253,552,586],
 ["NES: -1.80","p<.005",666,139,173],["NES: -1.7","P<.00001",1045,166,199],["NES: 1.76","p<.01",1315,179,212],
 ["NES: -1.47","p<.01",1477,569,603],["NES: -2.64","p<.00001",264,1463,1497],["NES: -2.05","p<.00001",275,1666,1699]]
 .forEach(d=>{txt(d[0],d[2],d[3],24);txt(d[1],d[2],d[4],24);});
txt("Inflammatory Mφ",468.3,969,29,{weight:700});
txt("Res-like Mφ",480,1270,28,{weight:700});
const tt=txt("Trem2",497.4,1518,28,{weight:700});
tt.append("tspan").attr("dy",-10).attr("font-size",17).text("Hi");
tt.append("tspan").attr("dy",10).text(" Mφ");
const LS="'Liberation Sans'";
[[genesInflam,655.5,[1092.4,1132.3,1172.2,1212]],[genesRes,651.2,[1342.3,1380,1422.7,1460.8]],[genesTrem,655,[1583,1623,1663,1703]]]
 .forEach(([gs,x,ys])=>gs.forEach((g,i)=>txt(g,x,ys[i],33,{family:LS,fill:"#555"})));
[[clusterNamesG,973,[1059,1160.4,1260,1346.4,1444.4,1551.8,1660,1749.5]],
 [clusterNamesHL,1292,[1071,1206,1340.8,1475.7,1610.6,1745.5]],
 [clusterNamesHR,1561.6,[1071,1205.4,1340,1472.9,1607.2]]]
 .forEach(([ns,x,ys])=>ns.forEach((n,i)=>txt(n,x,ys[i],27)));
</script></body></html>
